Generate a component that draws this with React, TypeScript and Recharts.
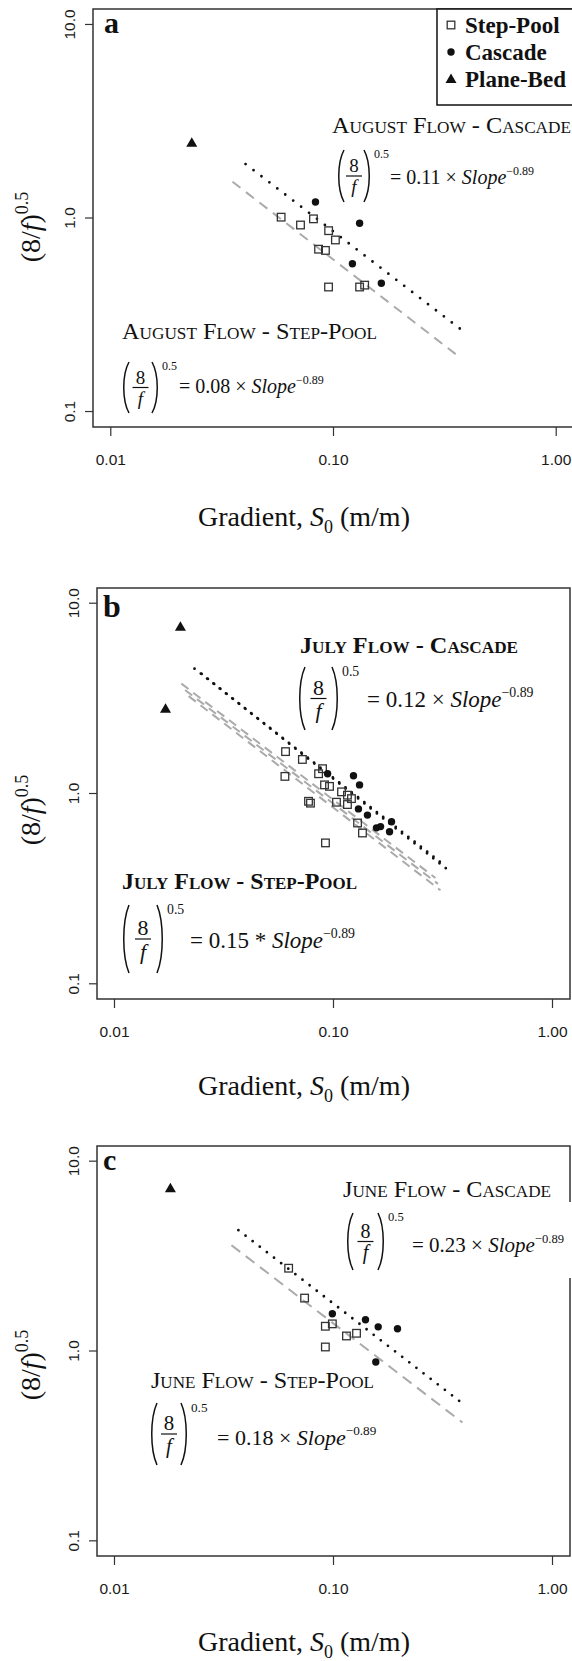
import React from "react";
import { ScatterChart, Scatter, XAxis, YAxis, ReferenceArea } from "recharts";

const SERIF = "'Liberation Serif', 'DejaVu Serif', serif";
const SANS = "'Liberation Sans', Arial, sans-serif";

// axes (log-log, R style 4% padding around 0.01-1 and 0.1-10)
const xTicks = [0.01, 0.1, 1];
const xTickLabels = ["0.01", "0.10", "1.00"];
const yTicks = [0.1, 1, 10];
const yTickLabels = ["0.1", "1.0", "10.0"];
const xDomain = [0.00832, 1.202];
const yDomain = [0.0832, 12.02];

// a - August flow
const augStepPool = [
  { x: 0.0582, y: 1.01 }, { x: 0.0711, y: 0.92 }, { x: 0.0813, y: 0.99 },
  { x: 0.0951, y: 0.86 }, { x: 0.102, y: 0.77 }, { x: 0.0857, y: 0.69 },
  { x: 0.092, y: 0.68 }, { x: 0.095, y: 0.44 }, { x: 0.131, y: 0.44 },
  { x: 0.138, y: 0.45 },
];
const augCascade = [
  { x: 0.083, y: 1.21 }, { x: 0.131, y: 0.94 }, { x: 0.1216, y: 0.58 }, { x: 0.164, y: 0.46 },
];
const augPlaneBed = [{ x: 0.0231, y: 2.45 }];
const augCascadeFit = [[{ x: 0.0403, y: 1.9 }, { x: 0.4, y: 0.25 }]];
const augStepPoolFit = [[{ x: 0.0352, y: 1.54 }, { x: 0.364, y: 0.193 }]];

// b - July flow
const julyStepPool = [
  { x: 0.0604, y: 1.66 }, { x: 0.06, y: 1.23 }, { x: 0.0721, y: 1.51 },
  { x: 0.0891, y: 1.35 }, { x: 0.0855, y: 1.27 }, { x: 0.091, y: 1.11 },
  { x: 0.0959, y: 1.09 }, { x: 0.0769, y: 0.91 }, { x: 0.0785, y: 0.89 },
  { x: 0.1032, y: 0.9 }, { x: 0.1088, y: 1.02 }, { x: 0.1158, y: 0.98 },
  { x: 0.1208, y: 0.94 }, { x: 0.1158, y: 0.875 }, { x: 0.1288, y: 0.7 },
  { x: 0.1356, y: 0.62 }, { x: 0.0919, y: 0.55 },
];
const julyCascade = [
  { x: 0.094, y: 1.27 }, { x: 0.1234, y: 1.24 }, { x: 0.1315, y: 1.11 },
  { x: 0.13, y: 0.83 }, { x: 0.1429, y: 0.77 }, { x: 0.1571, y: 0.66 },
  { x: 0.164, y: 0.67 }, { x: 0.1841, y: 0.71 }, { x: 0.1803, y: 0.63 },
];
const julyPlaneBed = [{ x: 0.02, y: 7.53 }, { x: 0.0171, y: 2.79 }];
const julyCascadeFit = [
  [{ x: 0.0232, y: 4.53 }, { x: 0.321, y: 0.42 }],
  [{ x: 0.025, y: 4.25 }, { x: 0.33, y: 0.4 }],
];
const julyStepPoolFit = [
  [{ x: 0.0202, y: 3.78 }, { x: 0.292, y: 0.36 }],
  [{ x: 0.021, y: 3.5 }, { x: 0.3, y: 0.335 }],
  [{ x: 0.0218, y: 3.25 }, { x: 0.308, y: 0.31 }],
];

// c - June flow
const juneStepPool = [
  { x: 0.0624, y: 2.73 }, { x: 0.0738, y: 1.9 }, { x: 0.0918, y: 1.35 },
  { x: 0.0988, y: 1.39 }, { x: 0.1146, y: 1.2 }, { x: 0.1274, y: 1.24 },
  { x: 0.0918, y: 1.05 },
];
const juneCascade = [
  { x: 0.0988, y: 1.57 }, { x: 0.14, y: 1.46 }, { x: 0.16, y: 1.34 },
  { x: 0.196, y: 1.31 }, { x: 0.156, y: 0.875 },
];
const junePlaneBed = [{ x: 0.018, y: 7.2 }];
const juneCascadeFit = [[{ x: 0.0368, y: 4.33 }, { x: 0.396, y: 0.52 }]];
const juneStepPoolFit = [[{ x: 0.0342, y: 3.61 }, { x: 0.388, y: 0.42 }]];

const Nothing = () => <g />;
const Square = ({ cx, cy }: any) => (
  <rect x={cx - 3.8} y={cy - 3.8} width={7.6} height={7.6} fill="none" stroke="#333" strokeWidth={1.3} />
);
const Dot = ({ cx, cy }: any) => <circle cx={cx} cy={cy} r={3.7} fill="#111" />;
const Tri = ({ cx, cy }: any) => (
  <path d={`M${cx},${cy - 5.5} L${cx + 5.5},${cy + 4} L${cx - 5.5},${cy + 4} Z`} fill="#111" />
);

const XTick = ({ x, y, payload }: any) => (
  <text x={x} y={y + 27} textAnchor="middle" fontFamily={SANS} fontSize={15.5} fill="#1a1a1a">
    {xTickLabels[xTicks.indexOf(payload.value)]}
  </text>
);
const YTick = ({ x, y, payload }: any) => {
  const tx = x - 8;
  return (
    <text x={tx} y={y} transform={`rotate(-90 ${tx} ${y})`} textAnchor="middle" fontFamily={SANS} fontSize={15.5} fill="#1a1a1a">
      {yTickLabels[yTicks.indexOf(payload.value)]}
    </text>
  );
};

function Panel({ top, width, left, plotTop, plotW, plotH, stepPool, cascade, planeBed, cascadeFits, stepFits, dotted, dashed }: any) {
  const height = 480;
  return (
    <div style={{ position: "absolute", left: 0, top }}>
      <ScatterChart width={width} height={height} margin={{ top: plotTop, right: width - left - plotW, bottom: 0, left: 0 }}>
        <XAxis type="number" dataKey="x" scale="log" domain={xDomain} allowDataOverflow ticks={xTicks} interval={0}
          axisLine={false} tickSize={9} tickLine={{ stroke: "#333", strokeWidth: 1.2 }} height={height - plotTop - plotH} tick={XTick} />
        <YAxis type="number" dataKey="y" scale="log" domain={yDomain} allowDataOverflow ticks={yTicks} interval={0}
          axisLine={false} tickSize={8} tickLine={{ stroke: "#333", strokeWidth: 1.2 }} width={left} tick={YTick} />
        <ReferenceArea x1={xDomain[0]} x2={xDomain[1]} y1={yDomain[0]} y2={yDomain[1]} fill="none" stroke="#333" strokeWidth={1.5} ifOverflow="visible" />
        {stepFits.map((d: any, i: number) => (
          <Scatter key={"sf" + i} data={d} shape={Nothing} isAnimationActive={false}
            line={{ stroke: "#aaa", strokeWidth: 2, strokeDasharray: dashed }} />
        ))}
        {cascadeFits.map((d: any, i: number) => (
          <Scatter key={"cf" + i} data={d} shape={Nothing} isAnimationActive={false}
            line={{ stroke: "#111", strokeWidth: 2.8, strokeDasharray: dotted, strokeLinecap: "round" }} />
        ))}
        <Scatter data={stepPool} shape={Square} isAnimationActive={false} />
        <Scatter data={cascade} shape={Dot} isAnimationActive={false} />
        <Scatter data={planeBed} shape={Tri} isAnimationActive={false} />
      </ScatterChart>
    </div>
  );
}

function Eq({ px, pw, top, bottom, eqX, eqY, fs, coef, op }: any) {
  const h = bottom - top;
  const bar = top + h * 0.5;
  const cx = px + pw / 2;
  const r = px + pw;
  return (
    <g fontFamily={SERIF} fill="#111">
      <path d={`M${px + 7},${top} C${px},${top + h * 0.25} ${px},${bottom - h * 0.25} ${px + 7},${bottom}`} fill="none" stroke="#111" strokeWidth={1.5} />
      <path d={`M${r - 7},${top} C${r},${top + h * 0.25} ${r},${bottom - h * 0.25} ${r - 7},${bottom}`} fill="none" stroke="#111" strokeWidth={1.5} />
      <text x={cx} y={bar - 4} textAnchor="middle" fontSize={fs * 0.95}>8</text>
      <line x1={cx - 8} x2={cx + 8} y1={bar} y2={bar} stroke="#111" strokeWidth={1.2} />
      <text x={cx} y={bar + fs * 0.85} textAnchor="middle" fontSize={fs * 0.95} fontStyle="italic">f</text>
      <text x={r + 3} y={top + fs * 0.4} fontSize={fs * 0.6}>0.5</text>
      <text x={eqX} y={eqY} fontSize={fs}>
        = {coef} {op} <tspan fontStyle="italic">Slope</tspan>
        <tspan dy={-fs * 0.45} fontSize={fs * 0.6}>−0.89</tspan>
      </text>
    </g>
  );
}

const Title = ({ x, y, w, fs, bold, children }: any) => (
  <text x={x} y={y} fontFamily={SERIF} fontSize={fs} fontWeight={bold ? 700 : 400} fill="#111"
    textLength={w} lengthAdjust="spacingAndGlyphs" style={{ fontVariant: "small-caps" }}>
    {children}
  </text>
);

const XTitle = ({ y }: any) => (
  <text x={198} y={y} fontFamily={SERIF} fontSize={28} fill="#111">
    Gradient, <tspan fontStyle="italic">S</tspan>
    <tspan fontSize={18} dy={7}>0</tspan>
    <tspan dy={-7}> (m/m)</tspan>
  </text>
);

const YTitle = ({ cy }: any) => (
  <text transform={`translate(40 ${cy}) rotate(-90)`} textAnchor="middle" fontFamily={SERIF} fontSize={28} fill="#111">
    (8/<tspan fontStyle="italic">f</tspan>)<tspan fontSize={18} dy={-12}>0.5</tspan>
  </text>
);

export default function App() {
  return (
    <div style={{ position: "relative", width: 572, height: 1661, overflow: "hidden", background: "#fff" }}>
      <style>{"body{margin:0}"}</style>
      <Panel top={0} width={580} left={93} plotTop={9} plotW={481} plotH={418}
        stepPool={augStepPool} cascade={augCascade} planeBed={augPlaneBed}
        cascadeFits={augCascadeFit} stepFits={augStepPoolFit} dotted="0 10" dashed="10 7" />
      <Panel top={580} width={572} left={97} plotTop={8} plotW={473} plotH={411}
        stepPool={julyStepPool} cascade={julyCascade} planeBed={julyPlaneBed}
        cascadeFits={julyCascadeFit} stepFits={julyStepPoolFit} dotted="0 8" dashed="9 6" />
      <Panel top={1138} width={572} left={97} plotTop={8} plotW={473} plotH={410}
        stepPool={juneStepPool} cascade={juneCascade} planeBed={junePlaneBed}
        cascadeFits={juneCascadeFit} stepFits={juneStepPoolFit} dotted="0 9" dashed="11 7" />

      <svg width={572} height={1661} style={{ position: "absolute", left: 0, top: 0, pointerEvents: "none" }}>
        {/* panel a */}
        <text x={104} y={33} fontFamily={SERIF} fontSize={30} fontWeight={700} fill="#111">a</text>
        <rect x={437} y={9} width={150} height={96} fill="#fff" stroke="#111" strokeWidth={1.5} />
        <Square cx={451} cy={25} />
        <Dot cx={451} cy={52} />
        <Tri cx={451} cy={79} />
        <g fontFamily={SERIF} fontSize={23} fontWeight={700} fill="#111">
          <text x={465} y={33}>Step-Pool</text>
          <text x={465} y={60}>Cascade</text>
          <text x={465} y={87}>Plane-Bed</text>
        </g>
        <Title x={332} y={133} w={239} fs={24}>August Flow - Cascade</Title>
        <Eq px={337} pw={34} top={150} bottom={202} eqX={390} eqY={184} fs={20} coef="0.11" op="×" />
        <Title x={122} y={339} w={255} fs={24}>August Flow - Step-Pool</Title>
        <Eq px={122} pw={37} top={362} bottom={413} eqX={179} eqY={393} fs={20} coef="0.08" op="×" />
        <YTitle cy={227} />
        <XTitle y={526} />

        {/* panel b */}
        <text x={103} y={617} fontFamily={SERIF} fontSize={32} fontWeight={700} fill="#111">b</text>
        <Title x={300} y={653} w={218} fs={24} bold>July Flow - Cascade</Title>
        <Eq px={298} pw={41} top={667} bottom={730} eqX={367} eqY={707} fs={23} coef="0.12" op="×" />
        <Title x={122} y={889} w={235} fs={24} bold>July Flow - Step-Pool</Title>
        <Eq px={122} pw={42} top={905} bottom={973} eqX={190} eqY={948} fs={23} coef="0.15" op="*" />
        <YTitle cy={810} />
        <XTitle y={1095} />

        {/* panel c */}
        <text x={103} y={1170} fontFamily={SERIF} fontSize={30} fontWeight={700} fill="#111">c</text>
        <rect x={540} y={1202} width={40} height={76} fill="#fff" />
        <Title x={343} y={1197} w={208} fs={24}>June Flow - Cascade</Title>
        <Eq px={346} pw={39} top={1213} bottom={1270} eqX={412} eqY={1252} fs={21} coef="0.23" op="×" />
        <Title x={151} y={1388} w={223} fs={24}>June Flow - Step-Pool</Title>
        <Eq px={150} pw={38} top={1403} bottom={1465} eqX={217} eqY={1445} fs={22} coef="0.18" op="×" />
        <YTitle cy={1365} />
        <XTitle y={1651} />
      </svg>
    </div>
  );
}
